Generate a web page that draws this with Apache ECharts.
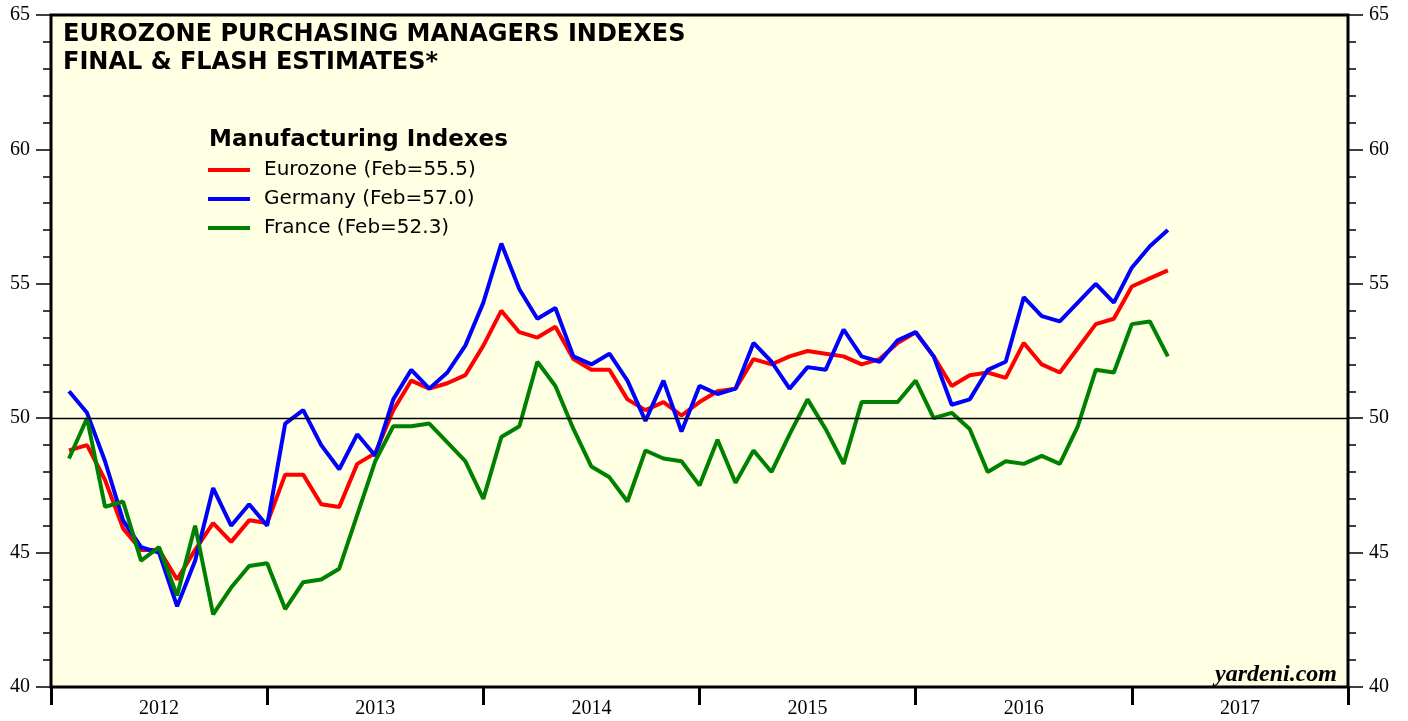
<!DOCTYPE html>
<html><head><meta charset="utf-8">
<script src="https://cdn.jsdelivr.net/npm/echarts@6/dist/echarts.min.js"></script>
<style>html,body{margin:0;padding:0;background:#fff;}#c{width:1408px;height:721px;}</style>
</head><body><div id="c"></div>
<script>
const months = [
  '2012-01','2012-02','2012-03','2012-04','2012-05','2012-06','2012-07','2012-08','2012-09','2012-10','2012-11','2012-12',
  '2013-01','2013-02','2013-03','2013-04','2013-05','2013-06','2013-07','2013-08','2013-09','2013-10','2013-11','2013-12',
  '2014-01','2014-02','2014-03','2014-04','2014-05','2014-06','2014-07','2014-08','2014-09','2014-10','2014-11','2014-12',
  '2015-01','2015-02','2015-03','2015-04','2015-05','2015-06','2015-07','2015-08','2015-09','2015-10','2015-11','2015-12',
  '2016-01','2016-02','2016-03','2016-04','2016-05','2016-06','2016-07','2016-08','2016-09','2016-10','2016-11','2016-12',
  '2017-01','2017-02'
];
const years = ['2012','2013','2014','2015','2016','2017'];
const yTicks = [40, 45, 50, 55, 60, 65];

const eurozone = [
  48.8, 49.0, 47.7, 45.9, 45.1, 45.1, 44.0, 45.1, 46.1, 45.4, 46.2, 46.1,
  47.9, 47.9, 46.8, 46.7, 48.3, 48.7, 50.3, 51.4, 51.1, 51.3, 51.6, 52.7,
  54.0, 53.2, 53.0, 53.4, 52.2, 51.8, 51.8, 50.7, 50.3, 50.6, 50.1, 50.6,
  51.0, 51.1, 52.2, 52.0, 52.3, 52.5, 52.4, 52.3, 52.0, 52.2, 52.8, 53.2,
  52.3, 51.2, 51.6, 51.7, 51.5, 52.8, 52.0, 51.7, 52.6, 53.5, 53.7, 54.9,
  55.2, 55.5
];
const germany = [
  51.0, 50.2, 48.4, 46.2, 45.2, 45.0, 43.0, 44.7, 47.4, 46.0, 46.8, 46.0,
  49.8, 50.3, 49.0, 48.1, 49.4, 48.6, 50.7, 51.8, 51.1, 51.7, 52.7, 54.3,
  56.5, 54.8, 53.7, 54.1, 52.3, 52.0, 52.4, 51.4, 49.9, 51.4, 49.5, 51.2,
  50.9, 51.1, 52.8, 52.1, 51.1, 51.9, 51.8, 53.3, 52.3, 52.1, 52.9, 53.2,
  52.3, 50.5, 50.7, 51.8, 52.1, 54.5, 53.8, 53.6, 54.3, 55.0, 54.3, 55.6,
  56.4, 57.0
];
const france = [
  48.5, 50.0, 46.7, 46.9, 44.7, 45.2, 43.4, 46.0, 42.7, 43.7, 44.5, 44.6,
  42.9, 43.9, 44.0, 44.4, 46.4, 48.4, 49.7, 49.7, 49.8, 49.1, 48.4, 47.0,
  49.3, 49.7, 52.1, 51.2, 49.6, 48.2, 47.8, 46.9, 48.8, 48.5, 48.4, 47.5,
  49.2, 47.6, 48.8, 48.0, 49.4, 50.7, 49.6, 48.3, 50.6, 50.6, 50.6, 51.4,
  50.0, 50.2, 49.6, 48.0, 48.4, 48.3, 48.6, 48.3, 49.7, 51.8, 51.7, 53.5,
  53.6, 52.3
];
const seriesNames = ['Eurozone (Feb=55.5)', 'Germany (Feb=57.0)', 'France (Feb=52.3)'];
const seriesColors = ['#ff0000', '#0000ff', '#008000'];
const refLevel = 50;

function pts(vals) {
  return vals.map((v, i) => {
    const p = months[i].split('-').map(Number);
    return [(p[0] - 2012) * 12 + p[1], v];
  });
}

function yAx(pos) {
  return {
    type: 'value', position: pos, min: yTicks[0], max: yTicks[yTicks.length - 1], interval: 5,
    axisLine: { show: false },
    axisTick: { show: true, length: 15, lineStyle: { color: '#000', width: 1.5 } },
    minorTick: { show: true, splitNumber: 5, length: 8, lineStyle: { color: '#000', width: 1.5 } },
    splitLine: { show: false }, minorSplitLine: { show: false },
    axisLabel: { margin: 21, fontFamily: 'Liberation Serif', fontSize: 20, color: '#000' }
  };
}

const chart = echarts.init(document.getElementById('c'), null, { renderer: 'canvas' });
const dataSeries = [eurozone, germany, france].map((vals, k) => ({
  name: seriesNames[k], type: 'line', xAxisIndex: 0, yAxisIndex: 0, z: 3,
  data: pts(vals), showSymbol: false, symbol: 'none', smooth: false,
  itemStyle: { color: seriesColors[k] },
  lineStyle: { color: seriesColors[k], width: 4 }
}));
const option = {
  animation: false,
  backgroundColor: '#ffffff',
  title: [
    { text: 'EUROZONE PURCHASING MANAGERS INDEXES\nFINAL & FLASH ESTIMATES*', left: 63, top: 21, padding: 0,
      textStyle: { fontFamily: 'DejaVu Sans', fontWeight: 'bold', fontSize: 24, lineHeight: 28, color: '#000' } },
    { text: 'Manufacturing Indexes', left: 209, top: 129, padding: 0,
      textStyle: { fontFamily: 'DejaVu Sans', fontWeight: 'bold', fontSize: 23, lineHeight: 23, color: '#000' } }
  ],
  legend: {
    orient: 'vertical', left: 208, top: 159, padding: 0, itemWidth: 42, itemHeight: 4, itemGap: 7,
    icon: 'rect', data: seriesNames, selectedMode: false,
    textStyle: { fontFamily: 'DejaVu Sans', fontSize: 20, lineHeight: 22, color: '#000', padding: [0, 0, 0, 9] }
  },
  grid: { left: 51, right: 60, top: 15, bottom: 34, show: true, backgroundColor: '#FFFFE3', borderColor: '#000', borderWidth: 3 },
  xAxis: [
    { type: 'value', min: 0, max: 72, position: 'bottom', show: false },
    { type: 'category', data: years, position: 'bottom', boundaryGap: true,
      axisLine: { show: false },
      axisTick: { show: true, interval: 0, length: 18, lineStyle: { width: 3, color: '#000' } },
      axisLabel: { interval: 0, margin: 12, fontFamily: 'Liberation Serif', fontSize: 20, color: '#000' },
      splitLine: { show: false } }
  ],
  yAxis: [yAx('left'), yAx('right')],
  graphic: [
    { type: 'text', x: 1337, y: 687, z: 10,
      style: { text: 'yardeni.com', fill: '#000', font: 'italic bold 24px "Liberation Serif"', align: 'right', verticalAlign: 'bottom', textAlign: 'right', textVerticalAlign: 'bottom' } }
  ],
  series: [
    { name: 'ref', type: 'line', xAxisIndex: 0, yAxisIndex: 0, z: 2, data: [], silent: true,
      markLine: { silent: true, symbol: ['none', 'none'], label: { show: false },
        lineStyle: { color: '#000', width: 1.3, type: 'solid' }, data: [{ yAxis: refLevel }] } }
  ].concat(dataSeries)
};
chart.setOption(option);
</script></body></html>
